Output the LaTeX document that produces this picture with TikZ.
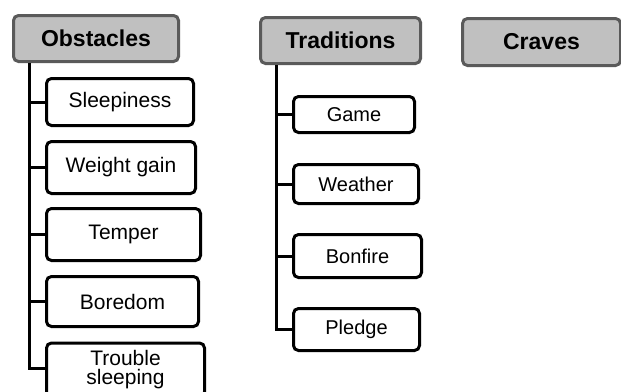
\documentclass[tikz,border=0pt]{standalone}
\usepackage{fontspec}
\setmainfont{Liberation Sans}
\definecolor{hdrfill}{HTML}{C0C0C0}
\definecolor{hdrline}{HTML}{5A5A5A}
\begin{document}
\begin{tikzpicture}[x=1pt,y=-1pt,
  hdr/.style={draw=hdrline,fill=hdrfill,line width=3pt,rounded corners=5pt,inner sep=0pt,
    font=\fontsize{23}{26}\selectfont\bfseries},
  leaf/.style={draw=black,fill=white,line width=3pt,rounded corners=5pt,inner sep=0pt,align=center},
  lfont/.style={font=\fontsize{21}{20}\selectfont},
  rfont/.style={font=\fontsize{20}{22}\selectfont},
  conn/.style={draw=black,line width=3pt}]
\useasboundingbox (0,0) rectangle (621,391);
\clip (0,0) rectangle (621,391);
% headers
\node[hdr,minimum width=165pt,minimum height=46pt] (obs) at (96,38.5) {Obstacles};
\node[hdr,minimum width=160pt,minimum height=46pt] (trad) at (340.5,40.5) {Traditions};
\node[hdr,minimum width=158pt,minimum height=47pt] (crav) at (541.5,42) {Craves};
% left children
\node[leaf,lfont,minimum width=147pt,minimum height=47pt] (sleep) at (120,102) {Sleepiness};
\node[leaf,lfont,minimum width=149pt,minimum height=52pt] (weight) at (121,167.5) {Weight gain};
\node[leaf,lfont,minimum width=154pt,minimum height=52pt] (temper) at (123.5,234.5) {Temper};
\node[leaf,lfont,minimum width=152pt,minimum height=50pt] (bored) at (122.5,301.5) {Boredom};
\node[leaf,lfont,minimum width=158pt,minimum height=54pt] (trouble) at (125.5,370) {Trouble\\[-1pt]sleeping};
% right children
\node[leaf,rfont,minimum width=121pt,minimum height=36pt] (game) at (354,114.5) {Game};
\node[leaf,rfont,minimum width=125pt,minimum height=39pt] (weather) at (356,184) {Weather};
\node[leaf,rfont,minimum width=128pt,minimum height=43pt] (bonfire) at (357.5,256) {Bonfire};
\node[leaf,rfont,minimum width=126pt,minimum height=42pt] (pledge) at (356.5,329.5) {Pledge};
% trunks
\coordinate (lt) at (29,0);
\coordinate (rt) at (276,0);
\coordinate (lend) at (29,368);
\draw[conn] (lt |- obs.south) -- (lend) -- (lend -| trouble.west);
\foreach \n in {sleep,weight,temper,bored}
  \draw[conn] (lt |- \n.west) -- (\n.west);
\draw[conn] (rt |- trad.south) |- (pledge.west);
\foreach \n in {game,weather,bonfire}
  \draw[conn] (rt |- \n.west) -- (\n.west);
\end{tikzpicture}
\end{document}
